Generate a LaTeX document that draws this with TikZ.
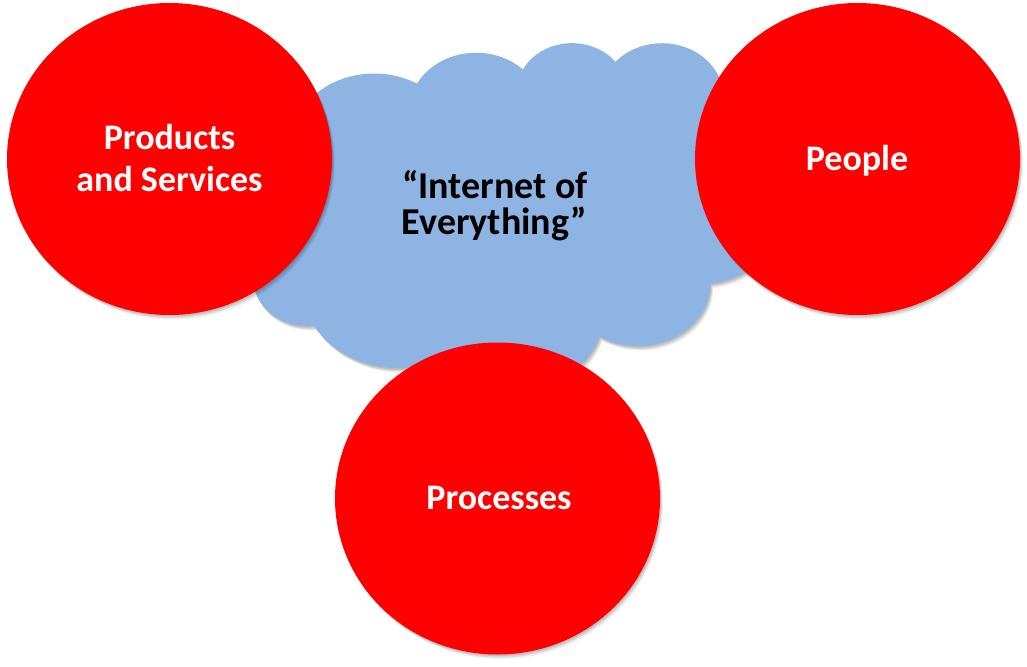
\documentclass[tikz,border=0pt]{standalone}
\usepackage{fontspec}
\setmainfont{Carlito}
\usetikzlibrary{shapes.geometric}
\definecolor{cloudblue}{HTML}{8EB4E3}
\definecolor{ppred}{HTML}{FF0000}
\begin{document}
\begin{tikzpicture}[x=1pt,y=-1pt,
  redball/.style={ellipse, fill=ppred, minimum width=325pt, minimum height=312pt, inner sep=0pt, outer sep=0pt},
  whitetext/.style={text=white, font=\fontsize{36}{42}\selectfont\bfseries, anchor=base, inner sep=0pt},
  blacktext/.style={text=black, font=\fontsize{38}{36}\selectfont\bfseries, anchor=base, inner sep=0pt},
  shadowfill/.style={fill=black, opacity=#1}]
\useasboundingbox (0,0) rectangle (1027,666);
\fill[white] (0,0) rectangle (1027,666);
\def\cloudpath{(3.9,14.37)
 arc[start angle=-187.745, delta angle=128.115, x radius=6.753, y radius=9.19]
 arc[start angle=-152.01, delta angle=106.554, x radius=5.333, y radius=7.267]
 arc[start angle=-153.489, delta angle=116.158, x radius=4.365, y radius=5.945]
 arc[start angle=-139.715, delta angle=129.504, x radius=4.857, y radius=6.595]
 arc[start angle=-74.766, delta angle=97.974, x radius=5.333, y radius=7.273]
 arc[start angle=-37.526, delta angle=119.389, x radius=6.775, y radius=9.22]
 arc[start angle=0.4596, delta angle=121.516, x radius=5.785, y radius=7.867]
 arc[start angle=16.846, delta angle=129.392, x radius=6.752, y radius=9.215]
 arc[start angle=58.989, delta angle=91.196, x radius=7.72, y radius=10.543]
 arc[start angle=83.306, delta angle=139.803, x radius=4.36, y radius=5.918]
 arc[start angle=120.356, delta angle=143.756, x radius=4.345, y radius=5.945]
 -- cycle}
% cloud shadow
\foreach \dx/\dy/\op in {1/1.5/0.11, 2/3/0.11, 3/4.5/0.07}{
  \fill[shadowfill=\op, shift={(241.4+\dx,42+\dy)}, xscale=12.54, yscale=8] \cloudpath;
}
% cloud
\fill[cloudblue, shift={(241.4,42)}, xscale=12.54, yscale=8] \cloudpath;
% circle positions
\coordinate (cProd) at (169.5,159);
\coordinate (cPeop) at (857.5,159);
\coordinate (cProc) at (497.5,498.5);
% circle shadows
\foreach \c in {cProd,cPeop,cProc}{
  \foreach \dx/\dy/\op in {1/1.5/0.1, 2/3/0.1, 3/4.5/0.06}{
    \fill[shadowfill=\op] (\c) ++(\dx,\dy) ellipse[x radius=162.5, y radius=156];
  }
}
% circles
\node[redball] (prod) at (cProd) {};
\node[redball] (peop) at (cPeop) {};
\node[redball] (proc) at (cProc) {};
% texts
\node[whitetext] (prodA) at (169.5,149) {Products};
\node[whitetext] (prodB) at (169.5,191.7) {and Services};
\node[whitetext] (peopT) at (857,170) {People};
\node[whitetext] (procT) at (499,509) {Processes};
\node[blacktext] (ioeA) at (495,198) {“Internet of};
\node[blacktext] (ioeB) at (494.5,234) {Everything”};
\end{tikzpicture}
\end{document}
